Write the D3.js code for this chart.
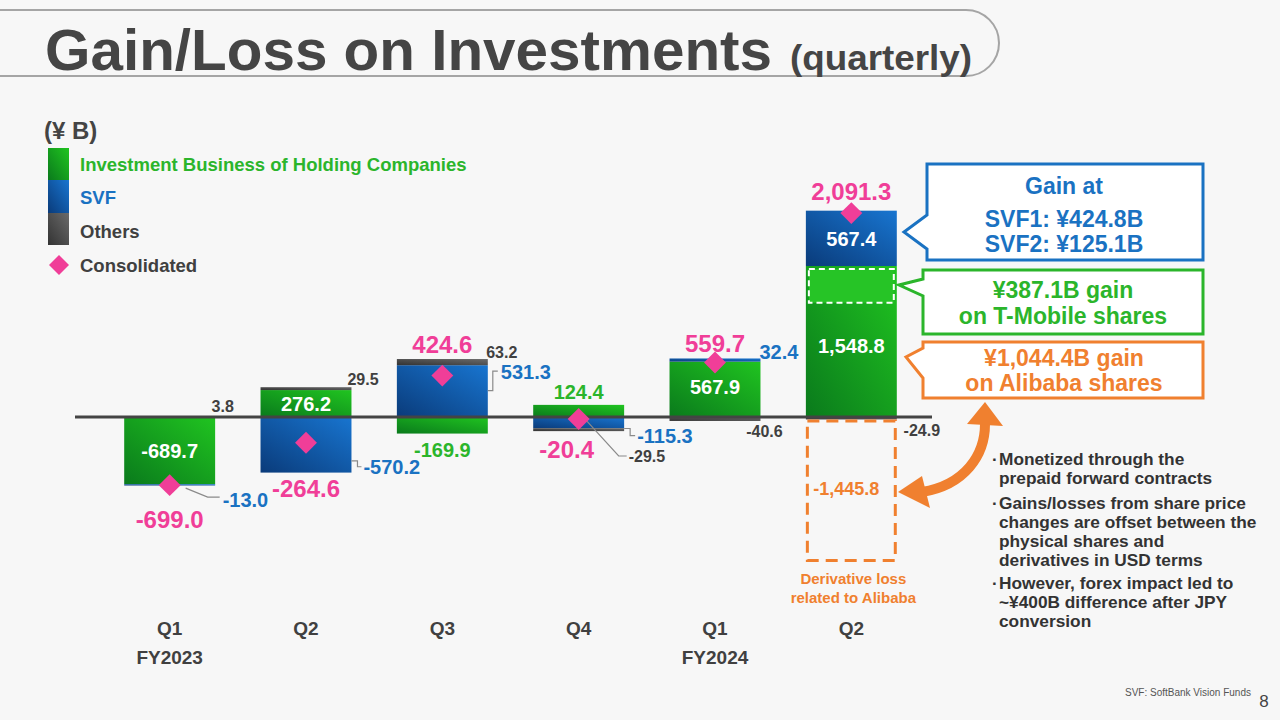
<!DOCTYPE html>
<html><head><meta charset="utf-8">
<script src="https://cdn.jsdelivr.net/npm/d3@7"></script>
<style>
html,body{margin:0;padding:0;background:#f7f7f7;}
svg{display:block;font-family:"Liberation Sans",Arial,sans-serif;font-weight:bold;}
</style></head>
<body><svg id="c" width="1280" height="720"></svg>
<script>
const quarters = ["Q1","Q2","Q3","Q4","Q1","Q2"];
const fiscalYears = ["FY2023","","","","FY2024",""];
const holding = [-689.7, 276.2, -169.9, 124.4, 567.9, 1548.8];
const svf = [-13.0, -570.2, 531.3, -115.3, 32.4, 567.4];
const others = [3.8, 29.5, 63.2, -29.5, -40.6, -24.9];
const derivative = [0, 0, 0, 0, 0, -1445.8];
const consolidated = [-699.0, -264.6, 424.6, -20.4, 559.7, 2091.3];
const tmobileGain = 387.1;

const C = {green:"#2bb52b", blue:"#1a72c2", grey:"#404040", pink:"#f03e98", orange:"#f0802f"};
const svg = d3.select("#c");
svg.append("rect").attr("width",1280).attr("height",720).attr("fill","#f7f7f7");

const defs = svg.append("defs");
function grad(id, c1, c2){
  const g = defs.append("linearGradient").attr("id",id).attr("x1","100%").attr("y1","0%").attr("x2","0%").attr("y2","100%");
  g.append("stop").attr("offset","0%").attr("stop-color",c1);
  g.append("stop").attr("offset","100%").attr("stop-color",c2);
}
grad("gGreen","#20c420","#0a7a1c");
grad("gBlue","#1875d0","#0a3b7a");
grad("gGrey","#6a6a6a","#333333");

// title frame
svg.append("path").attr("d","M-5,10 H966 A33,33 0 0 1 966,76 H-5").attr("fill","none").attr("stroke","#a5a5a5").attr("stroke-width",2);
svg.append("text").attr("x",45).attr("y",70).attr("font-size",58).attr("fill","#454545")
  .attr("textLength",727).attr("lengthAdjust","spacingAndGlyphs").text("Gain/Loss on Investments");
svg.append("text").attr("x",790).attr("y",70).attr("font-size",35).attr("fill","#454545")
  .attr("textLength",182).attr("lengthAdjust","spacingAndGlyphs").text("(quarterly)");

// scales
const x = d3.scaleBand().domain(d3.range(quarters.length)).range([101.5,919.5]).paddingInner(0.333).paddingOuter(0.1665);
const y = d3.scaleLinear().domain([-1500, 2100]).range([563.25, 212.25]);
const bw = x.bandwidth();
const cx = i => x(i) + bw/2;

// stacking
const segs = [];
quarters.forEach((q,i)=>{
  let pos=0, neg=0;
  [["h",holding[i],"url(#gGreen)"],["s",svf[i],"url(#gBlue)"],["o",others[i],"url(#gGrey)"]].forEach(([k,v,f])=>{
    let y0,y1;
    if(v>=0){y0=pos; y1=pos+v; pos=y1;} else {y0=neg; y1=neg+v; neg=y1;}
    segs.push({i,k,v,y0,y1,f});
  });
  if(derivative[i]!==0){
    segs.push({i,k:"d",v:derivative[i],y0:neg,y1:neg+derivative[i],f:"none"});
  }
});

svg.selectAll("rect.bar").data(segs.filter(d=>d.k!=="d")).join("rect").attr("class","bar")
  .attr("x",d=>x(d.i)).attr("width",bw)
  .attr("y",d=>Math.min(y(d.y0),y(d.y1))).attr("height",d=>Math.abs(y(d.y0)-y(d.y1)))
  .attr("fill",d=>d.f);

// derivative dashed box
segs.filter(d=>d.k==="d").forEach(d=>{
  svg.append("rect").attr("x",x(d.i)+1.5).attr("width",bw-3)
    .attr("y",y(d.y0)+1.5).attr("height",Math.abs(y(d.y1)-y(d.y0))-1.5)
    .attr("fill","none").attr("stroke",C.orange).attr("stroke-width",3).attr("stroke-dasharray","12,7");
});
// T-Mobile dashed box inside last green bar
{
  const i=5;
  svg.append("rect").attr("x",x(i)+3).attr("width",bw-6)
    .attr("y",y(holding[i])+3).attr("height",y(holding[i]-tmobileGain)-y(holding[i])-4)
    .attr("fill","#26c426").attr("stroke","#fff").attr("stroke-width",2).attr("stroke-dasharray","6,4");
}

// zero line
svg.append("line").attr("x1",75).attr("x2",932).attr("y1",y(0)).attr("y2",y(0)).attr("stroke","#444").attr("stroke-width",3);

// leader lines
const leaders = [
  [[cx(0)+16,y(-699)+3],[cx(0)+38,y(-699)+12],[cx(0)+50,y(-699)+12]],
  [[x(1)+bw,y(-450)],[x(1)+bw+6,y(-450)],[x(1)+bw+6,y(-510)],[x(1)+bw+10,y(-510)]],
  [[x(2)+bw,y(270)],[x(2)+bw+5,y(270)],[x(2)+bw+5,y(470)],[x(2)+bw+10,y(470)]],
  [[x(3)+bw,y(-118)],[x(3)+bw+6,y(-118)],[x(3)+bw+6,y(-190)],[x(3)+bw+11,y(-190)]],
  [[cx(3)+8,y(-40)],[cx(3)+40,y(-400)],[cx(3)+48,y(-400)]]
];
leaders.forEach(p=>svg.append("path").attr("d",d3.line()(p)).attr("fill","none").attr("stroke","#8a8a8a").attr("stroke-width",1.2));

// diamonds
svg.selectAll("path.dia").data(consolidated).join("path").attr("class","dia")
  .attr("d",d3.symbol().type(d3.symbolSquare).size(240))
  .attr("transform",(d,i)=>`translate(${cx(i)},${y(d)}) rotate(45)`).attr("fill",C.pink);

function label(t,xx,yy,size,color,anchor){
  return svg.append("text").attr("x",xx).attr("y",yy).attr("font-size",size).attr("fill",color)
    .attr("text-anchor",anchor||"middle").attr("dominant-baseline","central").text(t);
}
const fmt = v => d3.format(",.1f")(v).replace("−","-");

// bar value labels
// Q1 FY23
label(fmt(holding[0]),cx(0),y(holding[0]/2),20,"#fff");
label(fmt(others[0]),cx(0)+53,y(0)-11,16,C.grey);
label(fmt(svf[0]),cx(0)+53,y(-699)+15,20,C.blue,"start");
label(fmt(consolidated[0]),cx(0),y(consolidated[0])+34,24,C.pink);
// Q2
label(fmt(holding[1]),cx(1),y(holding[1]/2),20,"#fff");
label(fmt(others[1]),cx(1)+57,y(holding[1]+others[1])-8,16,C.grey);
label(fmt(svf[1]),x(1)+bw+12,y(-510),20,C.blue,"start");
label(fmt(consolidated[1]),cx(1),y(svf[1])+16,24,C.pink);
// Q3
label(fmt(consolidated[2]),cx(2),y(svf[2]+others[2])-15,24,C.pink);
label(fmt(others[2]),x(2)+bw+14,y(svf[2]+others[2])-7,16,C.grey);
label(fmt(svf[2]),x(2)+bw+13,y(470)+1,20,C.blue,"start");
label(fmt(holding[2]),cx(2),y(holding[2])+16,20,C.green);
// Q4
label(fmt(holding[3]),cx(3),y(holding[3])-13,20,C.green);
label(fmt(svf[3]),x(3)+bw+13,y(-190),20,C.blue,"start");
label(fmt(consolidated[3]),cx(3)-12,y(consolidated[3])+31,24,C.pink);
label(fmt(others[3]),cx(3)+50,y(-400),16,C.grey,"start");
// Q1 FY24
label(fmt(consolidated[4]),cx(4),y(holding[4]+svf[4])-15,24,C.pink);
label(fmt(svf[4]),x(4)+bw-1,y(holding[4]+svf[4])-6,20,C.blue,"start");
label(fmt(holding[4]),cx(4),y(holding[4]/2)-2,20,"#fff");
label(fmt(others[4]),x(4)+bw+4,y(0)+14,16,C.grey);
// Q2 FY24
label(fmt(consolidated[5]),cx(5),y(consolidated[5])-22,24,C.pink);
label(fmt(svf[5]),cx(5),y(holding[5]+svf[5]/2)+1,20,"#fff");
label(fmt(holding[5]),cx(5),y(holding[5]-tmobileGain)+42,20,"#fff");
label(fmt(others[5]),x(5)+bw+25,y(0)+13,16,C.grey);
label(fmt(derivative[5]),cx(5)-5,y(others[5]+derivative[5]/2)-1,18,C.orange);
label("Derivative loss",cx(5)+2,578,15,C.orange);
label("related to Alibaba",cx(5)+2,597,15,C.orange);

// axis labels
svg.selectAll("text.q").data(quarters).join("text").attr("class","q")
  .attr("x",(d,i)=>cx(i)).attr("y",628).attr("text-anchor","middle").attr("dominant-baseline","central")
  .attr("font-size",19).attr("fill",C.grey).text(d=>d);
svg.selectAll("text.fy").data(fiscalYears).join("text").attr("class","fy")
  .attr("x",(d,i)=>cx(i)).attr("y",657).attr("text-anchor","middle").attr("dominant-baseline","central")
  .attr("font-size",19).attr("fill",C.grey).text(d=>d);

// legend
label("(¥ B)",44,130,24,"#444","start");
svg.append("rect").attr("x",48).attr("y",148).attr("width",21).attr("height",32).attr("fill","url(#gGreen)");
svg.append("rect").attr("x",48).attr("y",180).attr("width",21).attr("height",33).attr("fill","url(#gBlue)");
svg.append("rect").attr("x",48).attr("y",213).attr("width",21).attr("height",32).attr("fill","url(#gGrey)");
svg.append("path").attr("d",d3.symbol().type(d3.symbolSquare).size(200)).attr("transform","translate(59,265) rotate(45)").attr("fill",C.pink);
label("Investment Business of Holding Companies",80,164,18.5,C.green,"start");
label("SVF",80,197,18.5,C.blue,"start");
label("Others",80,231,18.5,C.grey,"start");
label("Consolidated",80,265,18.5,C.grey,"start");

// callouts
function callout(x0,y0,x1,y1,tipX,tipY,pa,pb,color){
  const d=`M${x0},${y0} H${x1} V${y1} H${x0} V${pb} L${tipX},${tipY} L${x0},${pa} Z`;
  svg.append("path").attr("d",d).attr("fill","#fff").attr("stroke",color).attr("stroke-width",3).attr("stroke-linejoin","miter");
}
callout(927,164,1203,260,904,232,215,249,C.blue);
label("Gain at",1064,186,23,C.blue);
label("SVF1: ¥424.8B",1064,219,23,C.blue);
label("SVF2: ¥125.1B",1064,244,23,C.blue);
callout(923,270,1203,334,899,285,279,296,C.green);
label("¥387.1B gain",1063,290,23,C.green);
label("on T-Mobile shares",1063,316,23,C.green);
callout(923,342,1203,398,906,357,348,378,C.orange);
label("¥1,044.4B gain",1064,358,23,C.orange);
label("on Alibaba shares",1064,383,23,C.orange);

// double arrow
svg.append("path").attr("d","M985,424 C985,455 965,485 922,492").attr("fill","none").attr("stroke",C.orange).attr("stroke-width",10);
svg.append("path").attr("d","M985,402 L1003,426 L967,424 Z").attr("fill",C.orange);
svg.append("path").attr("d","M898,492 L922,476 L930,508 Z").attr("fill",C.orange);

// bullets
const bullets = [
  [459,"·Monetized through the"],[478,"  prepaid forward contracts"],
  [503,"·Gains/losses from share price"],[522,"  changes are offset between the"],[541,"  physical shares and"],[560,"  derivatives in USD terms"],
  [583,"·However, forex impact led to"],[602,"  ~¥400B difference after JPY"],[621,"  conversion"]
];
bullets.forEach(([yy,t])=>{
  const first = t.startsWith("·");
  if(first){ label("·",992,yy,17,"#333","start"); label(t.slice(1),999,yy,17.3,"#333","start"); }
  else label(t.trim(),999,yy,17.3,"#333","start");
});

// footer
svg.append("text").attr("x",1251).attr("y",696).attr("text-anchor","end").attr("font-size",10).attr("font-weight","normal").attr("fill","#555").text("SVF: SoftBank Vision Funds");
svg.append("text").attr("x",1264).attr("y",707).attr("text-anchor","middle").attr("font-size",17).attr("font-weight","normal").attr("fill","#444").text("8");
</script></body></html>
